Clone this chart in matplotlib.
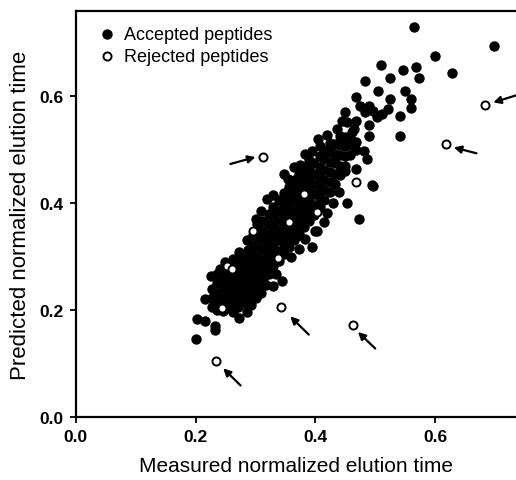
import matplotlib.pyplot as plt

plt.rcParams['font.family'] = ['Liberation Sans', 'DejaVu Sans']

# accepted peptides: outer / sparse points
acc_x = [0.564, 0.698, 0.600, 0.628, 0.510, 0.547, 0.568, 0.573, 0.524, 0.483,
         0.504, 0.549, 0.468, 0.525, 0.559, 0.559, 0.475, 0.489, 0.497, 0.511,
         0.522, 0.483, 0.503, 0.542, 0.542, 0.450, 0.453, 0.467, 0.464, 0.489,
         0.489, 0.444, 0.436, 0.461, 0.405, 0.408, 0.481, 0.486, 0.383, 0.364,
         0.467, 0.494, 0.453, 0.472, 0.496, 0.347, 0.450, 0.319, 0.342, 0.300,
         0.403, 0.272, 0.394, 0.344, 0.329, 0.249, 0.226, 0.216, 0.201, 0.203,
         0.215, 0.232, 0.233, 0.273, 0.285, 0.310, 0.318, 0.300, 0.292, 0.335,
         0.360, 0.372, 0.382, 0.420, 0.430, 0.440, 0.415, 0.262, 0.285, 0.310,
         0.330, 0.355, 0.375, 0.395, 0.420, 0.241, 0.266, 0.291, 0.317, 0.351,
         0.369, 0.386, 0.411, 0.277, 0.302, 0.326, 0.342, 0.361, 0.379, 0.399]
acc_y = [0.730, 0.694, 0.674, 0.644, 0.658, 0.649, 0.654, 0.633, 0.633, 0.629,
         0.610, 0.610, 0.599, 0.594, 0.594, 0.577, 0.581, 0.581, 0.573, 0.566,
         0.576, 0.570, 0.560, 0.562, 0.525, 0.570, 0.551, 0.554, 0.538, 0.545,
         0.526, 0.554, 0.538, 0.532, 0.520, 0.507, 0.498, 0.482, 0.492, 0.467,
         0.464, 0.434, 0.401, 0.371, 0.432, 0.454, 0.460, 0.407, 0.404, 0.370,
         0.348, 0.308, 0.317, 0.255, 0.245, 0.290, 0.264, 0.221, 0.145, 0.184,
         0.179, 0.170, 0.163, 0.186, 0.197, 0.232, 0.246, 0.222, 0.210, 0.268,
         0.300, 0.315, 0.332, 0.382, 0.400, 0.420, 0.365, 0.295, 0.330, 0.385,
         0.415, 0.445, 0.472, 0.498, 0.528, 0.276, 0.241, 0.308, 0.285, 0.352,
         0.338, 0.452, 0.426, 0.227, 0.361, 0.301, 0.336, 0.407, 0.385, 0.348]

# accepted peptides: dense core of the band, column by column
core_x = [0.228] * 3 + [0.236] * 5 + [0.245] * 5 + [0.254] * 6 + [0.262] * 6 + \
         [0.271] * 6 + [0.279] * 6 + [0.287] * 6 + [0.296] * 7 + [0.305] * 7 + \
         [0.313] * 7 + [0.322] * 7 + [0.330] * 7 + [0.339] * 7 + [0.347] * 7 + \
         [0.356] * 7 + [0.364] * 7 + [0.373] * 7 + [0.381] * 7 + [0.390] * 7 + \
         [0.398] * 6 + [0.407] * 6 + [0.415] * 6 + [0.424] * 6 + [0.432] * 5 + \
         [0.441] * 5 + [0.450] * 4 + [0.458] * 3 + [0.467] * 2
core_y = [0.205, 0.222, 0.240,
          0.200, 0.215, 0.232, 0.250, 0.268,
          0.198, 0.212, 0.228, 0.245, 0.262,
          0.203, 0.218, 0.235, 0.252, 0.270, 0.285,
          0.196, 0.213, 0.228, 0.246, 0.262, 0.279,
          0.205, 0.222, 0.240, 0.256, 0.272, 0.290,
          0.214, 0.230, 0.248, 0.265, 0.283, 0.300,
          0.222, 0.240, 0.258, 0.275, 0.292, 0.312,
          0.232, 0.250, 0.268, 0.286, 0.305, 0.322, 0.340,
          0.245, 0.262, 0.280, 0.298, 0.316, 0.335, 0.352,
          0.258, 0.275, 0.293, 0.312, 0.330, 0.348, 0.366,
          0.268, 0.286, 0.305, 0.323, 0.342, 0.360, 0.380,
          0.282, 0.300, 0.318, 0.337, 0.355, 0.373, 0.392,
          0.292, 0.310, 0.330, 0.348, 0.367, 0.386, 0.405,
          0.305, 0.323, 0.342, 0.361, 0.380, 0.398, 0.418,
          0.318, 0.336, 0.355, 0.374, 0.392, 0.412, 0.430,
          0.330, 0.348, 0.367, 0.386, 0.405, 0.424, 0.444,
          0.342, 0.360, 0.380, 0.398, 0.417, 0.436, 0.455,
          0.355, 0.373, 0.392, 0.411, 0.430, 0.449, 0.468,
          0.366, 0.385, 0.404, 0.423, 0.442, 0.462, 0.480,
          0.378, 0.397, 0.416, 0.436, 0.455, 0.474,
          0.392, 0.410, 0.430, 0.449, 0.468, 0.488,
          0.405, 0.424, 0.443, 0.462, 0.482, 0.500,
          0.420, 0.440, 0.458, 0.476, 0.495, 0.512,
          0.436, 0.455, 0.474, 0.492, 0.510,
          0.452, 0.470, 0.489, 0.508, 0.525,
          0.470, 0.488, 0.506, 0.523,
          0.490, 0.508, 0.522,
          0.500, 0.515]

# rejected peptides
rej_x = [0.684, 0.618, 0.312, 0.467, 0.234, 0.343, 0.462, 0.244, 0.253, 0.260,
         0.337, 0.296, 0.356, 0.381, 0.402]
rej_y = [0.583, 0.510, 0.487, 0.440, 0.104, 0.205, 0.172, 0.203, 0.282, 0.276,
         0.298, 0.348, 0.365, 0.417, 0.384]

# arrows pointing at the outliers (tail -> head)
arr_tail = [(0.258, 0.473), (0.669, 0.493), (0.740, 0.603), (0.275, 0.059),
            (0.389, 0.154), (0.500, 0.128)]
arr_head = [(0.300, 0.486), (0.631, 0.504), (0.697, 0.588), (0.246, 0.091),
            (0.358, 0.188), (0.471, 0.159)]

fig = plt.figure(figsize=(5.16, 4.81), dpi=100)
ax = fig.add_axes([0.147, 0.131, 0.853, 0.844])

ax.scatter(acc_x + core_x, acc_y + core_y, s=56, color='black', linewidths=0,
           label='Accepted peptides', zorder=2)
ax.scatter(rej_x, rej_y, s=34, facecolor='white', edgecolor='black',
           linewidths=1.4, label='Rejected peptides', zorder=3)

for t, h in zip(arr_tail, arr_head):
    ax.annotate('', xy=h, xytext=t,
                arrowprops=dict(arrowstyle='-|>', color='black', lw=1.6,
                                mutation_scale=11, shrinkA=0, shrinkB=0),
                annotation_clip=False)

ax.set_xlim(0, 0.735)
ax.set_ylim(0, 0.759)
ax.set_xticks([0.0, 0.2, 0.4, 0.6])
ax.set_yticks([0.0, 0.2, 0.4, 0.6])
ax.set_xticklabels(['0.0', '0.2', '0.4', '0.6'])
ax.set_yticklabels(['0.0', '0.2', '0.4', '0.6'])
ax.tick_params(direction='out', length=4, width=1.3, labelsize=12.5, pad=5)
for lab in ax.get_xticklabels() + ax.get_yticklabels():
    lab.set_fontweight('bold')

for s in ['left', 'bottom', 'top']:
    ax.spines[s].set_linewidth(1.6)
ax.spines['right'].set_visible(False)

ax.set_xlabel('Measured normalized elution time', fontsize=15, labelpad=8)
ax.set_ylabel('Predicted normalized elution time', fontsize=16, labelpad=6)

ax.legend(loc='upper left', bbox_to_anchor=(0.045, 0.972), frameon=False,
          fontsize=13, handletextpad=0.45, borderaxespad=0.0,
          labelspacing=0.25, handlelength=0.9, borderpad=0.2)

plt.savefig('out.png', dpi=100)
